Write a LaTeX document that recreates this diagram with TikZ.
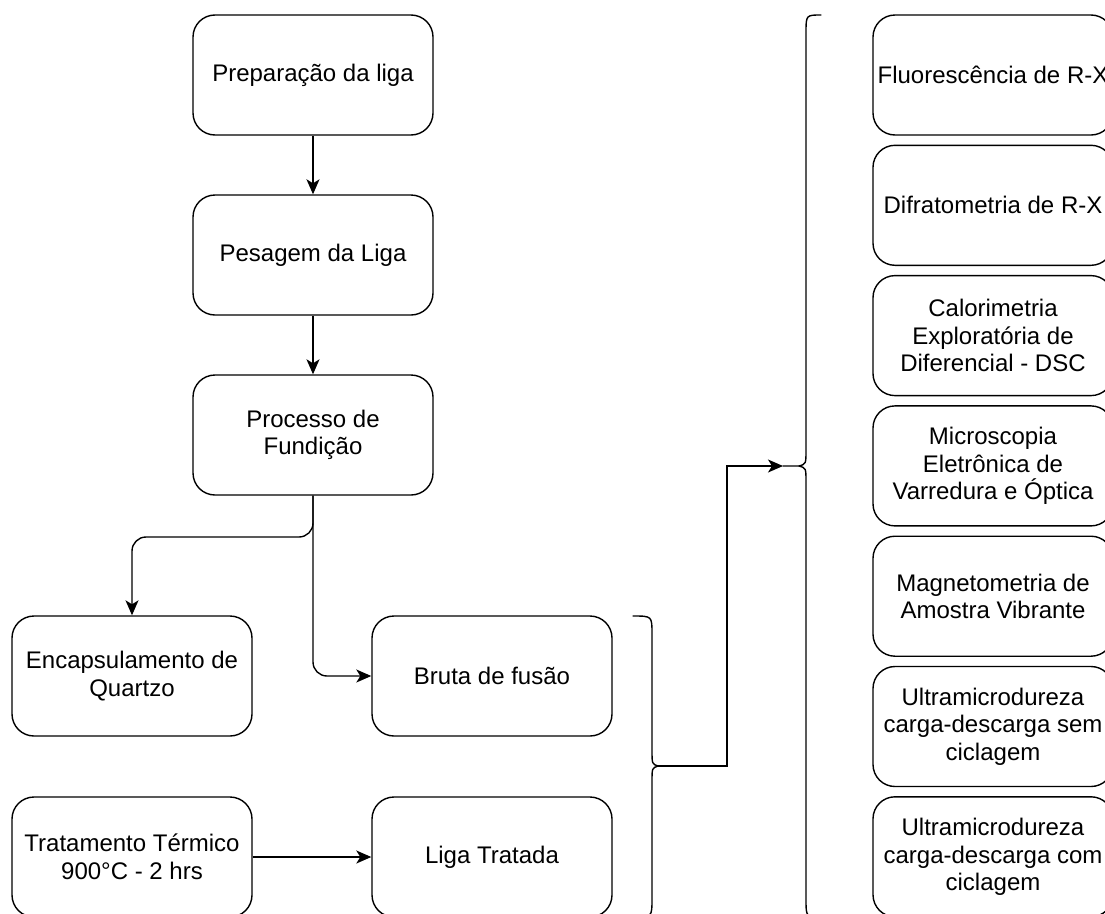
\documentclass[tikz,border=0pt]{standalone}
\usepackage{fontspec}
\setmainfont{Liberation Sans}
\usetikzlibrary{arrows.meta}
\begin{document}
\begin{tikzpicture}[x=1pt,y=-1pt,
  line width=1.4pt,
  box/.style={draw, rounded corners=22pt, minimum width=240pt, minimum height=120pt,
    align=center, inner sep=0pt, font=\fontsize{24}{27.5}\selectfont},
  flow/.style={-{Stealth[length=15pt,width=13pt,inset=4pt]}},
  brace/.style={line cap=round}]
\useasboundingbox (0,0) rectangle (1105,913);
\clip (0,0) rectangle (1105,913);

% main process chain
\node[box] (prep)  at (313,75)  {Preparação da liga};
\node[box] (pes)   at (313,255) {Pesagem da Liga};
\node[box] (proc)  at (313,435) {Processo de\\Fundição};
\node[box] (enc)   at (132,676) {Encapsulamento de\\Quartzo};
\node[box] (trat)  at (132,857) {Tratamento Térmico\\900°C - 2 hrs};
\node[box] (bruta) at (492,676) {Bruta de fusão};
\node[box] (liga)  at (492,857) {Liga Tratada};

% characterisation techniques
\node[box] (c1) at (993,75)    {Fluorescência de R-X};
\node[box] (c2) at (993,205.3) {Difratometria de R-X};
\node[box] (c3) at (993,335.6) {Calorimetria\\Exploratória de\\Diferencial - DSC};
\node[box] (c4) at (993,465.9) {Microscopia\\Eletrônica de\\Varredura e Óptica};
\node[box] (c5) at (993,596.2) {Magnetometria de\\Amostra Vibrante};
\node[box] (c6) at (993,726.5) {Ultramicrodureza\\carga-descarga sem\\ciclagem};
\node[box] (c7) at (993,856.8) {Ultramicrodureza\\carga-descarga com\\ciclagem};

% connectors of the process chain
\draw[flow] (prep) -- (pes);
\draw[flow] (pes) -- (proc);
\draw[flow, rounded corners=14pt] (proc.south) -- (313,537) -- (132,537) -- (enc.north);
\draw[flow, rounded corners=14pt] (proc.south) -- (313,676) -- (bruta.west);
\draw[flow] (trat) -- (liga);

% brace grouping the two samples
\coordinate (b1tip) at (658,766);
\draw[brace] (633,616) .. controls (652,616) .. (652,634) -- (652,750)
  .. controls (652,764) .. (b1tip)
  .. controls (652,768) .. (652,782) -- (652,899) .. controls (652,917) .. (633,917);

% brace grouping the characterisation techniques
\coordinate (b2tip) at (783,466);
\draw[brace] (821,15) .. controls (806,15) .. (806,33) -- (806,450)
  .. controls (806,464) .. (799,466) -- (b2tip);
\draw[brace] (799,466) .. controls (806,468) .. (806,482) -- (806,899)
  .. controls (806,917) .. (821,917);

% link from the samples to the techniques
\draw[flow] (b1tip) -- (727,766) |- (b2tip);
\end{tikzpicture}
\end{document}
